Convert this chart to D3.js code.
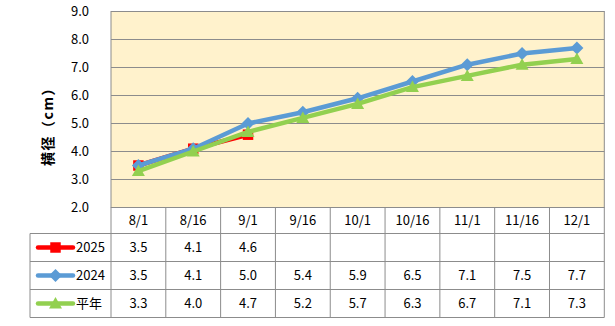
<!DOCTYPE html>
<html><head><meta charset="utf-8">
<script src="https://cdn.jsdelivr.net/npm/d3@7"></script>
<style>
body{margin:0;background:#fff;}
text{font-family:"Noto Sans CJK JP","Noto Sans",sans-serif;fill:#000;}
</style></head>
<body><svg id="c" width="615" height="326"></svg>
<script>
const categories = ["8/1","8/16","9/1","9/16","10/1","10/16","11/1","11/16","12/1"];
const seriesNames = ["2025","2024","平年"];
const values2025 = [3.5,4.1,4.6,null,null,null,null,null,null];
const values2024 = [3.5,4.1,5.0,5.4,5.9,6.5,7.1,7.5,7.7];
const valuesAvg  = [3.3,4.0,4.7,5.2,5.7,6.3,6.7,7.1,7.3];
const yTicks = [2,3,4,5,6,7,8,9];
const yTitle = "横径（cm）";

const series = [
  {name:seriesNames[0], values:values2025, color:"#FF0000", marker:"square"},
  {name:seriesNames[1], values:values2024, color:"#5B9BD5", marker:"diamond"},
  {name:seriesNames[2], values:valuesAvg,  color:"#92D050", marker:"triangle"}
];

const svg = d3.select("#c");
const L=111, R=604.3, T=11.5, B=207.5;
const x = d3.scaleBand().domain(categories).range([L,R]).padding(0);
const cx = d => x(d)+x.bandwidth()/2;
const y = d3.scaleLinear().domain([2,9]).range([B,T]);
const grid="#8C8C8C";

svg.append("rect").attr("x",L).attr("y",T).attr("width",R-L).attr("height",B-T).attr("fill","#FFF2CC");
svg.append("g").selectAll("line").data(yTicks).join("line")
  .attr("x1",L).attr("x2",R).attr("y1",d=>y(d)).attr("y2",d=>y(d))
  .attr("stroke",grid).attr("stroke-width",1);
svg.append("rect").attr("x",L).attr("y",T).attr("width",R-L).attr("height",B-T)
  .attr("fill","none").attr("stroke",grid).attr("stroke-width",1);

const ya = d3.axisLeft(y).tickValues(yTicks).tickFormat(d3.format(".1f")).tickSize(0).tickPadding(22);
const yg = svg.append("g").attr("transform",`translate(${L},0)`).call(ya);
yg.select(".domain").remove();
yg.selectAll("text").style("font-size","13px").style("font-family",'"Noto Sans CJK JP",sans-serif');

svg.append("text").attr("transform","translate(48,123) rotate(-90)")
  .attr("text-anchor","middle").attr("dy","0.35em").attr("font-size","14px")
  .attr("letter-spacing","1.5px").attr("font-weight","bold").text(yTitle);

function markerPath(type){
  if(type==="square") return d3.symbol(d3.symbolSquare,110)();
  if(type==="diamond") return "M0,-6.5L6.5,0L0,6.5L-6.5,0Z";
  return "M0,-6.5L6.5,5L-6.5,5Z";
}

series.forEach(s=>{
  const pts = categories.map((c,i)=>({c,v:s.values[i]})).filter(p=>p.v!=null);
  const line = d3.line().x(p=>cx(p.c)).y(p=>y(p.v));
  svg.append("path").datum(pts).attr("d",line).attr("fill","none")
    .attr("stroke",s.color).attr("stroke-width",4.5).attr("stroke-linejoin","round");
  svg.append("g").selectAll("path").data(pts).join("path")
    .attr("d",markerPath(s.marker)).attr("transform",p=>`translate(${cx(p.c)},${y(p.v)})`)
    .attr("fill",s.color);
});

// data table
const tableL=30, hdrB=233.5, rowH=28;
const tg = svg.append("g");
const rowsBottom = hdrB + rowH*series.length;
tg.selectAll("text.h").data(categories).join("text")
  .attr("x",d=>cx(d)).attr("y",(B+hdrB)/2).attr("dy","0.35em").attr("text-anchor","middle")
  .attr("font-size","13px").text(d=>d);
const vx = categories.map(c=>x(c)).concat([R]);
tg.selectAll("line.v").data(vx).join("line")
  .attr("x1",d=>d).attr("x2",d=>d).attr("y1",B).attr("y2",rowsBottom).attr("stroke",grid);
tg.append("line").attr("x1",tableL).attr("x2",tableL).attr("y1",hdrB).attr("y2",rowsBottom).attr("stroke",grid);
[0,1,2,3].forEach(i=>{
  tg.append("line").attr("x1",tableL).attr("x2",R).attr("y1",hdrB+i*rowH).attr("y2",hdrB+i*rowH).attr("stroke",grid);
});
series.forEach((s,i)=>{
  const yc = hdrB + rowH*i + rowH/2;
  tg.append("line").attr("x1",38).attr("x2",73).attr("y1",yc).attr("y2",yc)
    .attr("stroke",s.color).attr("stroke-width",4.5).attr("stroke-linecap","round");
  tg.append("path").attr("d",markerPath(s.marker)).attr("transform",`translate(55.5,${yc})`).attr("fill",s.color);
  tg.append("text").attr("x",76).attr("y",yc).attr("dy","0.35em").attr("font-size","13px").text(s.name);
  categories.forEach((c,j)=>{
    if(s.values[j]==null) return;
    tg.append("text").attr("x",cx(c)).attr("y",yc).attr("dy","0.35em").attr("text-anchor","middle")
      .attr("font-size","13px").text(d3.format(".1f")(s.values[j]));
  });
});
</script></body></html>
